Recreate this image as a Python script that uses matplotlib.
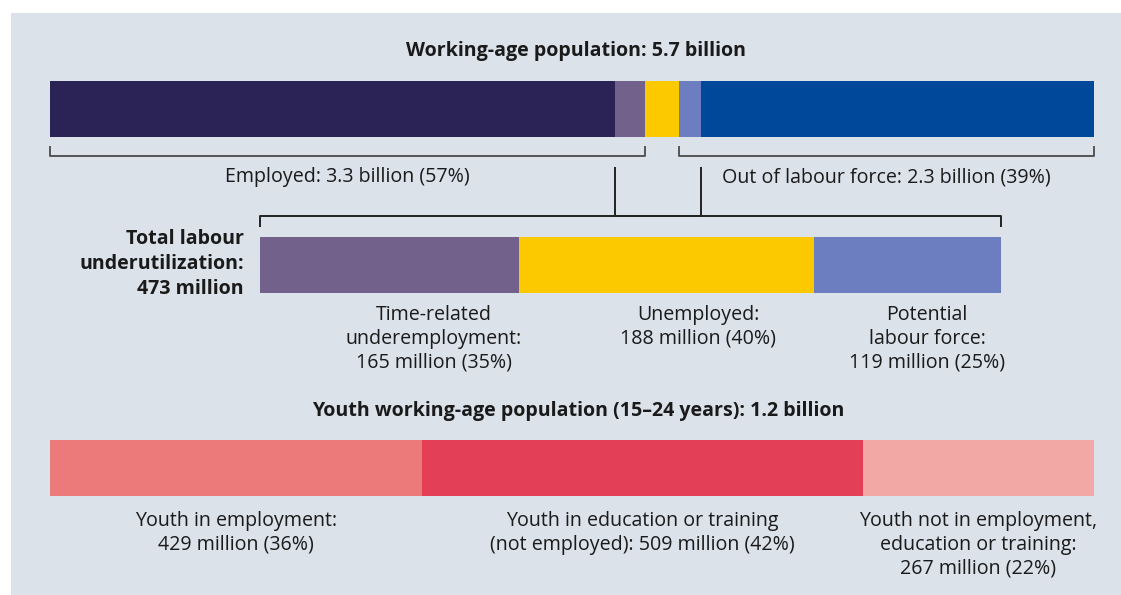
import matplotlib.pyplot as plt

plt.rcParams['font.family'] = ['Open Sans', 'Noto Sans', 'DejaVu Sans']

W, H = 1121, 595

# working-age population, millions
wap_labels = ['Employed (other)', 'Time-related underemployment', 'Unemployed',
              'Potential labour force', 'Out of labour force (other)']
wap_values = [3300 - 165, 165, 188, 119, 2300 - 119]
wap_colors = ['#2b2256', '#72618a', '#fcc800', '#6c7ebf', '#00489a']

# labour underutilization, millions
lu_labels = ['Time-related\nunderemployment:\n165 million (35%)',
             'Unemployed:\n188 million (40%)',
             'Potential\nlabour force:\n119 million (25%)']
lu_values = [165, 188, 119]
lu_colors = ['#72618a', '#fcc800', '#6c7ebf']

# youth working-age population, millions
youth_labels = ['Youth in employment:\n429 million (36%)',
                'Youth in education or training\n(not employed): 509 million (42%)',
                'Youth not in employment,\neducation or training:\n267 million (22%)']
youth_values = [429, 509, 267]
youth_colors = ['#ec7a7a', '#e34057', '#f2a9a6']

BG = '#dbe2ea'
TXT = '#1a1a1a'
BRK = '#555555'
FS = 14.1
LS = 1.265


def fx(px):
    return px / W


def fy(py):
    return 1 - py / H


def bar_axes(x0, x1, y0, y1, total):
    ax = fig.add_axes([fx(x0), fy(y1), fx(x1 - x0), (y1 - y0) / H])
    ax.set_xlim(0, total)
    ax.set_ylim(0, 1)
    ax.axis('off')
    return ax


def stack(ax, values, colors):
    left = 0
    for v, c in zip(values, colors):
        ax.barh(0.5, v, left=left, height=1.0, color=c, linewidth=0)
        left += v


fig = plt.figure(figsize=(W / 100, H / 100), dpi=100)
fig.patch.set_facecolor('white')
bg = fig.add_axes([fx(11), 0, 1 - fx(11), fy(13)])
bg.set_facecolor(BG)
bg.set_xticks([])
bg.set_yticks([])
for s in bg.spines.values():
    s.set_visible(False)

# top bar
bar_h = 56
total = sum(wap_values)
ax1 = bar_axes(50, 1094, 81, 137, total)
stack(ax1, wap_values, wap_colors)

emp_end = wap_values[0] + wap_values[1]
olf_start = emp_end + wap_values[2]
yb = -19 / bar_h
yt = -10 / bar_h
kw = dict(color=BRK, lw=1.4, clip_on=False)
ax1.plot([0, 0, emp_end, emp_end], [yt, yb, yb, yt], **kw)
ax1.plot([olf_start, olf_start, total, total], [yt, yb, yb, yt], **kw)

# connector down to the underutilization bracket
c0 = wap_values[0]
c1 = olf_start + wap_values[3]
yc_top = -31 / bar_h
yc_bot = -79 / bar_h
ax1.plot([c0, c0, c1, c1], [yc_top, yc_bot, yc_bot, yc_top],
         color='#222222', lw=1.4, clip_on=False)

fig.text(fx(50 + 1044 * emp_end / total / 2), fy(177), 'Employed: 3.3 billion (57%)',
         ha='center', va='center', fontsize=FS, color=TXT)
fig.text(fx(50 + 1044 * (olf_start + total) / total / 2), fy(177),
         'Out of labour force: 2.3 billion (39%)',
         ha='center', va='center', fontsize=FS, color=TXT)
fig.text(fx(576), fy(51), 'Working-age population: 5.7 billion',
         ha='center', va='center', fontsize=FS, fontweight='bold', color=TXT)

# middle bar
lu_total = sum(lu_values)
ax2 = bar_axes(260, 1001, 237, 293, lu_total)
stack(ax2, lu_values, lu_colors)
ax2.plot([0, 0, lu_total, lu_total], [1 + 11 / bar_h, 1 + 21 / bar_h, 1 + 21 / bar_h, 1 + 11 / bar_h],
         color='#222222', lw=1.4, clip_on=False)

fig.text(fx(244), fy(264), 'Total labour\nunderutilization:\n473 million',
         ha='right', va='center', fontsize=FS, fontweight='bold', color=TXT,
         linespacing=1.3)
for lab, x in zip(lu_labels, [434, 698, 927]):
    fig.text(fx(x), fy(305), lab, ha='center', va='top', fontsize=FS, color=TXT,
             linespacing=LS)

# youth bar
fig.text(fx(578), fy(411), 'Youth working-age population (15\u201324 years): 1.2 billion',
         ha='center', va='center', fontsize=FS, fontweight='bold', color=TXT)
y_total = sum(youth_values)
ax3 = bar_axes(50, 1094, 440, 496, y_total)
stack(ax3, youth_values, youth_colors)
left = 0
for lab, v in zip(youth_labels, youth_values):
    cx = 50 + 1044 * (left + v / 2) / y_total
    fig.text(fx(cx), fy(511), lab, ha='center', va='top', fontsize=FS, color=TXT,
             linespacing=LS)
    left += v

fig.savefig('out.png', dpi=100, facecolor=fig.get_facecolor())
